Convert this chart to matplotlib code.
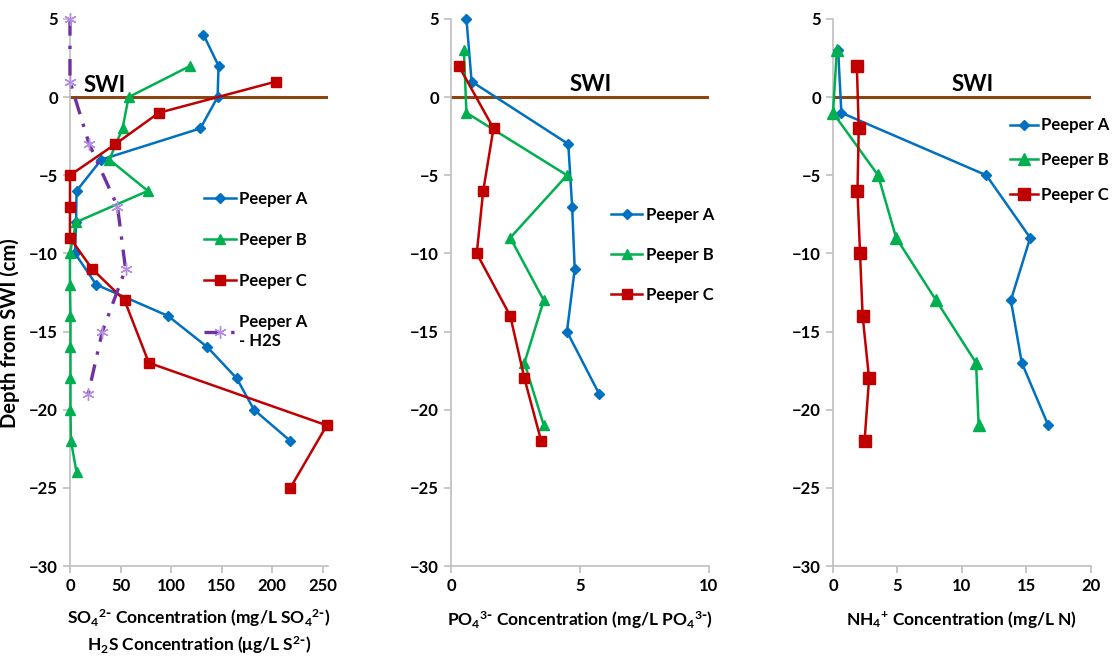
import numpy as np
import matplotlib
matplotlib.use('Agg')
import matplotlib.pyplot as plt

plt.rcParams['font.family'] = ['Lato', 'DejaVu Sans']
plt.rcParams['font.weight'] = 'bold'
plt.rcParams['mathtext.default'] = 'regular'

# --------------------------------------------------------------------------------------------
# DATA
# sulfate panel (mg/L SO4 2-), depth in cm
so4_a_depth = [4, 2, 0, -2, -4, -6, -8, -10, -12, -14, -16, -18, -20, -22]
so4_a = [132, 147, 146, 129, 31, 6.5, 6, 5, 26, 97, 136, 165, 182, 218]
so4_b_depth = [2, 0, -2, -4, -6, -8, -10, -12, -14, -16, -18, -20, -22, -24]
so4_b = [119, 58, 52, 39, 77, 6, 0, 0, 0.5, 0.5, 0.5, 0.5, 1, 6.5]
so4_c_depth = [1, -1, -3, -5, -7, -9, -11, -13, -17, -21, -25]
so4_c = [204, 88, 45, 0, 0, 0, 22, 54, 78, 254, 218]
h2s_a_depth = [5, 1, -3, -7, -11, -15, -19]
h2s_a = [0, 0, 19, 47, 55, 32, 18]

# phosphate panel (mg/L PO4 3-)
po4_a_depth = [5, 1, -3, -7, -11, -15, -19]
po4_a = [0.6, 0.8, 4.55, 4.7, 4.8, 4.5, 5.75]
po4_b_depth = [3, -1, -5, -9, -13, -17, -21]
po4_b = [0.5, 0.6, 4.5, 2.3, 3.6, 2.85, 3.6]
po4_c_depth = [2, -2, -6, -10, -14, -18, -22]
po4_c = [0.3, 1.65, 1.25, 1.0, 2.3, 2.85, 3.5]

# ammonium panel (mg/L N)
nh4_a_depth = [3, -1, -5, -9, -13, -17, -21]
nh4_a = [0.4, 0.65, 11.9, 15.3, 13.8, 14.65, 16.7]
nh4_b_depth = [3, -1, -5, -9, -13, -17, -21]
nh4_b = [0.3, 0.0, 3.5, 4.9, 8.0, 11.1, 11.3]
nh4_c_depth = [2, -2, -6, -10, -14, -18, -22]
nh4_c = [1.85, 2.0, 1.9, 2.1, 2.3, 2.8, 2.45]

BLUE = '#0070C0'
GREEN = '#00B050'
RED = '#C00000'
PURPLE = '#7030A0'
LPURPLE = '#B48EE0'
BROWN = '#8B4513'
GRAY = '#BFBFBF'

# --------------------------------------------------------------------------------------------
# FUNCTIONS
def styleAxis(ax, xmax, xstep):
    """Excel-like axis: only left and bottom spines, gray, bold ticks."""
    ax.set_ylim(-30, 5)
    ax.set_yticks(np.arange(-30, 6, 5))
    ax.set_xticks(np.arange(0, xmax + 0.1, xstep))
    for s in ['top', 'right']:
        ax.spines[s].set_visible(False)
    for s in ['left', 'bottom']:
        ax.spines[s].set_color(GRAY)
        ax.spines[s].set_linewidth(1.2)
    ax.tick_params(colors=GRAY, labelcolor='black', labelsize=12, length=5, width=1.2, direction='out')
    for lab in ax.get_xticklabels() + ax.get_yticklabels():
        lab.set_fontweight('bold')
    ax.axhline(0, color=BROWN, lw=2.2, zorder=1)


def drawSeries(ax, x, y, color, marker, ms, label):
    ax.plot(x, y, color=color, marker=marker, ms=ms, lw=1.8, label=label,
            markerfacecolor=color, markeredgecolor=color, zorder=3, clip_on=False)


def addLegend(ax, x, y, spacing, hlen=1.9):
    ax.legend(loc='upper left', bbox_to_anchor=(x, y), frameon=False, fontsize=12,
              labelspacing=spacing, handlelength=hlen, handletextpad=0.2, borderpad=0, borderaxespad=0)


# --------------------------------------------------------------------------------------------
# MAIN
fig = plt.figure(figsize=(11.16, 6.57), dpi=100)
ax1 = fig.add_axes([0.0627, 0.1385, 0.231, 0.8326])
ax2 = fig.add_axes([0.4041, 0.1385, 0.231, 0.8326])
ax3 = fig.add_axes([0.7464, 0.1385, 0.231, 0.8326])

sup2 = r'$^{2\text{-}}$'
sup3 = r'$^{3\text{-}}$'

# panel 1
styleAxis(ax1, 250, 50)
ax1.set_xlim(0, 255)
drawSeries(ax1, so4_a, so4_a_depth, BLUE, 'D', 5, 'Peeper A')
drawSeries(ax1, so4_b, so4_b_depth, GREEN, '^', 7, 'Peeper B')
drawSeries(ax1, so4_c, so4_c_depth, RED, 's', 7, 'Peeper C')
ax1.plot(h2s_a, h2s_a_depth, color=PURPLE, lw=2.4, dashes=(5, 3, 1, 3), marker=(6, 2, 0), ms=9,
         markeredgecolor=LPURPLE, markeredgewidth=1.0, label='Peeper A\n- H2S', zorder=4, clip_on=False)
ax1.text(13, 0.3, 'SWI', fontsize=16, fontweight='bold', va='baseline')
ax1.set_ylabel('Depth from SWI (cm)', fontsize=14.5, fontweight='bold')
ax1.yaxis.set_label_coords(-0.194, 0.426)
ax1.set_xlabel('SO$_4$' + sup2 + ' Concentration (mg/L SO$_4$' + sup2 + ')\nH$_2$S Concentration (\u03bcg/L S' + sup2 + ')',
               fontsize=12.5, fontweight='bold', labelpad=10, linespacing=1.3)
addLegend(ax1, 0.52, 0.685, 1.5)

# panel 2
styleAxis(ax2, 10, 5)
ax2.set_xlim(0, 10)
drawSeries(ax2, po4_a, po4_a_depth, BLUE, 'D', 5, 'Peeper A')
drawSeries(ax2, po4_b, po4_b_depth, GREEN, '^', 7, 'Peeper B')
drawSeries(ax2, po4_c, po4_c_depth, RED, 's', 7, 'Peeper C')
ax2.text(4.6, 0.4, 'SWI', fontsize=16, fontweight='bold', va='baseline')
ax2.set_xlabel('PO$_4$' + sup3 + ' Concentration (mg/L PO$_4$' + sup3 + ')', fontsize=12.5, fontweight='bold', labelpad=11)
addLegend(ax2, 0.62, 0.657, 1.45)

# panel 3
styleAxis(ax3, 20, 5)
ax3.set_xlim(0, 20)
drawSeries(ax3, nh4_a, nh4_a_depth, BLUE, 'D', 5, 'Peeper A')
drawSeries(ax3, nh4_b, nh4_b_depth, GREEN, '^', 9, 'Peeper B')
drawSeries(ax3, nh4_c, nh4_c_depth, RED, 's', 9, 'Peeper C')
ax3.text(9.2, 0.4, 'SWI', fontsize=16, fontweight='bold', va='baseline')
ax3.set_xlabel('NH$_4$$^{+}$ Concentration (mg/L N)', fontsize=12.5, fontweight='bold', labelpad=11)
addLegend(ax3, 0.685, 0.82, 1.12, hlen=1.7)

fig.savefig('out.png', dpi=100)
